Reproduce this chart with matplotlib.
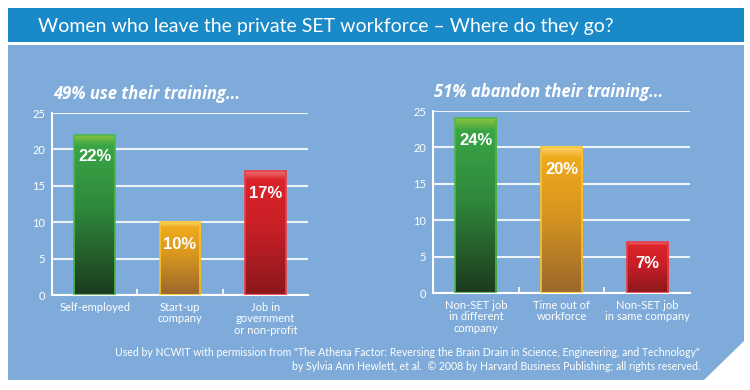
import numpy as np
import matplotlib.pyplot as plt
from matplotlib.patches import Polygon, Rectangle
from matplotlib.colors import LinearSegmentedColormap

# data
left_cats = ["Self-employed", "Start-up\ncompany", "Job in\ngovernment\nor non-profit"]
left_vals = [22, 10, 17]
right_cats = ["Non-SET job\nin different\ncompany", "Time out of\nworkforce", "Non-SET job\nin same company"]
right_vals = [24, 20, 7]

title = "Women who leave the private SET workforce – Where do they go?"
left_sub = "49% use their training..."
right_sub = "51% abandon their training..."
footer1 = 'Used by NCWIT with permission from "The Athena Factor: Reversing the Brain Drain in Science, Engineering, and Technology"'
footer2 = "by Sylvia Ann Hewlett, et al.  © 2008 by Harvard Business Publishing; all rights reserved."

# gradient stops for each bar (bottom -> top highlight), edge colour
grads = [
    (["#1c3a1e", "#2f8a3c", "#3aa547", "#8cc63f"], "#4cb848"),
    (["#9a672c", "#d8961f", "#f0aa1c", "#fbd36b"], "#f7c42f"),
    (["#8a181c", "#c81f26", "#dc232a", "#ef7074"], "#ea3d44"),
]

W, H = 750, 390
fig = plt.figure(figsize=(7.5, 3.9), dpi=100, facecolor="white")


def fx(x):
    return x / W


def fy(y):
    return 1 - y / H


# header bar and panel
fig.patches.append(Rectangle((fx(8), fy(42)), fx(736), 34 / H, transform=fig.transFigure,
                             facecolor="#1a89c8", edgecolor="none", zorder=-2))
pts = [(8, 45), (744, 45), (744, 341), (704, 380), (8, 380)]
fig.patches.append(Polygon([(fx(a), fy(b)) for a, b in pts], closed=True, transform=fig.transFigure,
                           facecolor="#7eabd9", edgecolor="none", zorder=-2))

fig.text(fx(38), fy(32), title, color="white", fontsize=14, family="Lato", va="baseline")
fig.text(fx(53), fy(99), left_sub, color="white", fontsize=12, family="Open Sans",
         weight="bold", style="italic", va="baseline")
fig.text(fx(434), fy(97), right_sub, color="white", fontsize=12, family="Open Sans",
         weight="bold", style="italic", va="baseline")
fig.text(fx(700), fy(356), footer1, color="white", fontsize=7.6, family="Lato", ha="right", va="baseline")
fig.text(fx(700), fy(370), footer2, color="white", fontsize=7.6, family="Lato", ha="right", va="baseline")


def draw(rect, cats, vals):
    ax = fig.add_axes(rect)
    ax.set_facecolor("none")
    x = np.arange(len(cats))
    bars = ax.bar(x, vals, width=0.48, zorder=3)
    for b, (stops, edge) in zip(bars, grads):
        b.set_facecolor("none")
        b.set_edgecolor(edge)
        b.set_linewidth(1.2)
        cmap = LinearSegmentedColormap.from_list("g", list(zip([0, 0.55, 0.93, 1.0], stops)))
        grad = np.linspace(0, 1, 256).reshape(-1, 1)
        im = ax.imshow(grad, cmap=cmap, origin="lower", aspect="auto", zorder=2,
                       extent=[b.get_x(), b.get_x() + b.get_width(), 0, b.get_height()])
        im.set_clip_path(b)
    for xi, v in zip(x, vals):
        ax.text(xi, v - 3, f"{v}%", color="white", fontsize=12, weight="bold",
                family="Liberation Sans", ha="center", va="center", zorder=4)
    ax.set_xlim(-0.5, len(cats) - 0.5)
    ax.set_ylim(0, 25)
    ax.set_yticks([0, 5, 10, 15, 20, 25])
    ax.set_xticks(x)
    ax.set_xticklabels(cats, color="white", fontsize=8, family="Lato", linespacing=1.05)
    ax.set_xticks([0.5, 1.5], minor=True)
    ax.tick_params(axis="x", which="major", length=0, pad=5)
    ax.tick_params(axis="x", which="minor", length=4, direction="in", color="white", width=1.2)
    ax.tick_params(axis="y", length=0, labelcolor="white", labelsize=8, pad=5)
    for lab in ax.get_yticklabels():
        lab.set_family("Lato")
    ax.grid(axis="y", color="#eef3fa", linewidth=1.5, zorder=1)
    ax.set_axisbelow(True)
    for s in ["top", "right"]:
        ax.spines[s].set_visible(False)
    for s in ["left", "bottom"]:
        ax.spines[s].set_color("white")
        ax.spines[s].set_linewidth(1.5)
    return ax


draw([fx(52), fy(295), fx(256), 182 / H], left_cats, left_vals)
draw([fx(433), fy(293), fx(257), 182 / H], right_cats, right_vals)

plt.savefig("out.png", dpi=100, facecolor="white")
